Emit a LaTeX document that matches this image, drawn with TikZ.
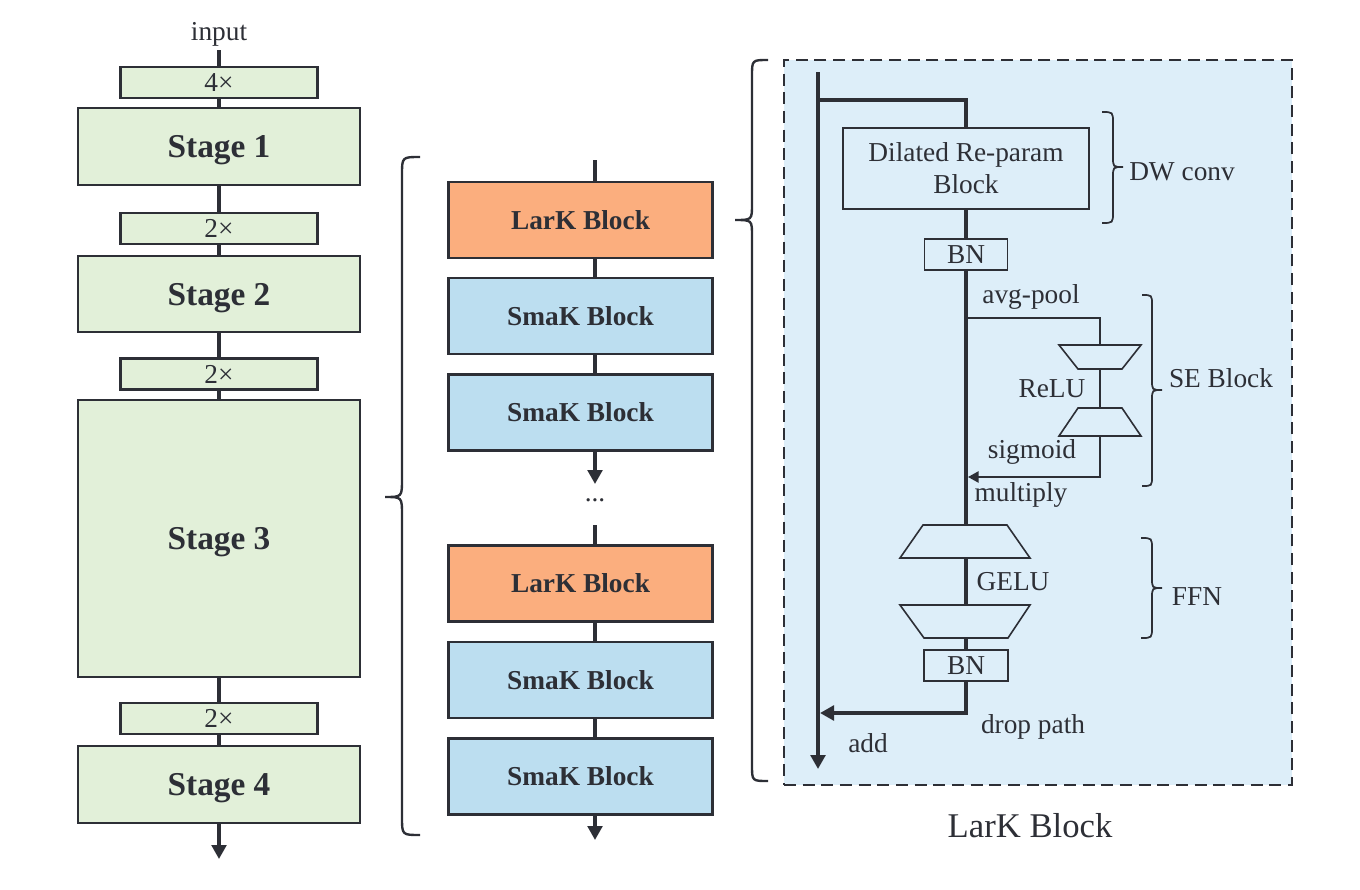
\documentclass[tikz,border=0pt]{standalone}
\usepackage{fontspec}
\setmainfont{Liberation Serif}
\usetikzlibrary{arrows.meta}
\definecolor{lc}{HTML}{2D2F36}
\definecolor{sgreen}{HTML}{E2F0D9}
\definecolor{lorange}{HTML}{FBAE7E}
\definecolor{sblue}{HTML}{BCDEF0}
\definecolor{pblue}{HTML}{DDEEF9}
\begin{document}
\begin{tikzpicture}[x=0.75pt,y=-0.75pt,
  conn/.style={draw=lc, line width=2.5pt},
  thickln/.style={draw=lc, line width=3pt},
  thinln/.style={draw=lc, line width=1.2pt},
  bigtip/.style={-{Triangle[length=10.5pt,width=11pt]}},
  smalltip/.style={-{Triangle[length=8pt,width=8.5pt]}},
  lab/.style={font=\fontsize{20.5}{24}\selectfont, inner sep=0, text=lc},
  stagebox/.style={draw=lc, line width=2pt, fill=sgreen, minimum width=211.5pt, inner sep=0,
    text depth=0pt, font=\bfseries\fontsize{25}{30}\selectfont, text=lc},
  repbox/.style={draw=lc, line width=2pt, fill=sgreen, minimum width=147.75pt, minimum height=23.25pt,
    inner sep=0, font=\fontsize{20.5}{24}\selectfont, text=lc},
  blockbox/.style={draw=lc, line width=2pt, minimum width=198pt, minimum height=57pt, inner sep=0,
    text depth=0pt, font=\bfseries\fontsize{20.5}{24}\selectfont, text=lc},
  larkbox/.style={blockbox, fill=lorange},
  smakbox/.style={blockbox, fill=sblue},
  thinbox/.style={draw=lc, line width=1.2pt, inner sep=0, font=\fontsize{20.5}{24}\selectfont, text=lc, align=center},
  bracepath/.style={draw=lc, line width=1.8pt},
  smallbrace/.style={draw=lc, line width=1.3pt}
]
\useasboundingbox (0,0) rectangle (1360,889);

% ---------------- left column ----------------
\node[lab] (inp) at (219,34) {input};
\coordinate (in0) at (219,50);
\node[repbox] (r1) at (219,82.5) {4×};
\node[stagebox, minimum height=57.75pt] (s1) at (219,146.5) {Stage 1};
\node[repbox] (r2) at (219,228.5) {2×};
\node[stagebox, minimum height=57pt] (s2) at (219,294) {Stage 2};
\node[repbox] (r3) at (219,374) {2×};
\node[stagebox, minimum height=207.75pt] (s3) at (219,538.5) {Stage 3};
\node[repbox] (r4) at (219,718.5) {2×};
\node[stagebox, minimum height=57.75pt] (s4) at (219,784.5) {Stage 4};
\coordinate (out0) at (219,859);

\draw[conn] (in0) -- (r1.north);
\draw[conn] (r1.south) -- (s1.north);
\draw[conn] (s1.south) -- (r2.north);
\draw[conn] (r2.south) -- (s2.north);
\draw[conn] (s2.south) -- (r3.north);
\draw[conn] (r3.south) -- (s3.north);
\draw[conn] (s3.south) -- (r4.north);
\draw[conn] (r4.south) -- (s4.north);
\draw[conn, bigtip] (s4.south) -- (out0);

% left brace
\draw[bracepath] (420,157) .. controls (402,157) .. (402,175) -- (402,479)
  .. controls (402,497) .. (385,497) .. controls (402,497) .. (402,515) -- (402,817)
  .. controls (402,835) .. (420,835);

% ---------------- middle column ----------------
\coordinate (mx) at (595,0);
\coordinate (m0) at (595,160);
\node[larkbox] (l1) at (580.5,220) {LarK Block};
\node[smakbox] (k1) at (580.5,316) {SmaK Block};
\node[smakbox] (k2) at (580.5,412.5) {SmaK Block};
\coordinate (m1) at (595,484);
\node[lab] (dots) at (595,500) {...};
\coordinate (m2) at (595,525);
\node[larkbox] (l2) at (580.5,583.5) {LarK Block};
\node[smakbox] (k3) at (580.5,680) {SmaK Block};
\node[smakbox] (k4) at (580.5,776.5) {SmaK Block};
\coordinate (m3) at (595,840);

\draw[conn] (m0) -- (mx |- l1.north);
\draw[conn] (mx |- l1.south) -- (mx |- k1.north);
\draw[conn] (mx |- k1.south) -- (mx |- k2.north);
\draw[conn, bigtip] (mx |- k2.south) -- (m1);
\draw[conn] (m2) -- (mx |- l2.north);
\draw[conn] (mx |- l2.south) -- (mx |- k3.north);
\draw[conn] (mx |- k3.south) -- (mx |- k4.north);
\draw[conn, bigtip] (mx |- k4.south) -- (m3);

% right big brace
\draw[bracepath] (768,60) .. controls (752,60) .. (752,76) -- (752,204)
  .. controls (752,220) .. (735,220) .. controls (752,220) .. (752,236) -- (752,765)
  .. controls (752,781) .. (768,781);

% ---------------- right panel ----------------
\node[draw=lc, line width=2.2pt, dash pattern=on 9pt off 5pt, fill=pblue,
      minimum width=381pt, minimum height=543.75pt, inner sep=0] (panel) at (1038,422.5) {};
\node[font=\fontsize{26}{30}\selectfont, text=lc, inner sep=0] (title) at (1030,826) {LarK Block};

\coordinate (mainTop) at (818,72);
\coordinate (mainBot) at (818,769);
\coordinate (skip) at (818,100);
\node[thinbox, minimum width=184.5pt, minimum height=60.75pt, text depth=0pt] (dil) at (966,168.5) {Dilated Re-param\\Block};
\node[thinbox, minimum width=62.25pt, minimum height=23.25pt] (bn1) at (966,254.5) {BN};

% SE block
\coordinate (se0) at (966,318);
\coordinate (t1n) at (1100,345);
\coordinate (t1s) at (1100,369);
\coordinate (t2n) at (1100,408);
\coordinate (t2s) at (1100,436);
\coordinate (se1) at (968,477);
\draw[thinln, fill=pblue] (1059,345) -- (1141,345) -- (1122,369) -- (1078,369) -- cycle;
\draw[thinln, fill=pblue] (1078,408) -- (1122,408) -- (1141,436) -- (1059,436) -- cycle;

% FFN
\coordinate (t3n) at (966,525);
\coordinate (t3s) at (966,558);
\coordinate (t4n) at (966,605);
\coordinate (t4s) at (966,638);
\draw[thinln, fill=pblue] (923,525) -- (1007,525) -- (1030,558) -- (900,558) -- cycle;
\draw[thinln, fill=pblue] (900,605) -- (1030,605) -- (1008,638) -- (924,638) -- cycle;
\node[thinbox, minimum width=63pt, minimum height=23.25pt] (bn2) at (966,665.5) {BN};
\coordinate (addp) at (820,713);

% connectors
\draw[thickln, bigtip] (mainTop) -- (mainBot);
\draw[thickln] (skip) -| (dil.north);
\draw[thickln] (dil.south) -- (bn1.north);
\draw[thickln] (bn1.south) -- (t3n);
\draw[thinln] (se0) -| (t1n);
\draw[thinln] (t1s) -- (t2n);
\draw[thinln, smalltip] (t2s) |- (se1);
\draw[thickln] (t3s) -- (t4n);
\draw[thickln] (t4s) -- (bn2.north);
\draw[thickln, bigtip] (bn2.south) |- (addp);

% labels
\node[lab] (lavg) at (1031,297) {avg-pool};
\node[lab] (lrelu) at (1052,389) {ReLU};
\node[lab] (lsig) at (1032,452) {sigmoid};
\node[lab] (lmul) at (1021,495) {multiply};
\node[lab] (lgelu) at (1013,582) {GELU};
\node[lab] (ldrop) at (1033,727) {drop path};
\node[lab] (ladd) at (868,743) {add};
\node[lab] (ldw) at (1182,172) {DW conv};
\node[lab] (lse) at (1221,378) {SE Block};
\node[lab] (lffn) at (1197,597) {FFN};

% small braces
\draw[smallbrace] (1102,112) .. controls (1113,112) .. (1113,123) -- (1113,157)
  .. controls (1113,167) .. (1123,167) .. controls (1113,167) .. (1113,177) -- (1113,212)
  .. controls (1113,223) .. (1102,223);
\draw[smallbrace] (1142,295) .. controls (1152,295) .. (1152,305) -- (1152,380)
  .. controls (1152,390) .. (1162,390) .. controls (1152,390) .. (1152,400) -- (1152,476)
  .. controls (1152,486) .. (1142,486);
\draw[smallbrace] (1141,538) .. controls (1152,538) .. (1152,549) -- (1152,578)
  .. controls (1152,588) .. (1162,588) .. controls (1152,588) .. (1152,598) -- (1152,627)
  .. controls (1152,638) .. (1141,638);
\end{tikzpicture}
\end{document}
